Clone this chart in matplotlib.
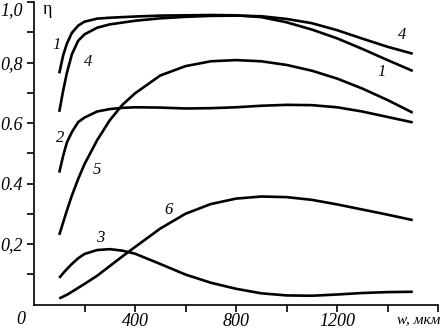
import matplotlib
matplotlib.use("Agg")
import matplotlib.pyplot as plt

# ---- data ----
w = [100, 115, 130, 150, 175, 200, 250, 300, 350, 400, 500, 600, 700, 800, 900, 1000, 1100, 1200, 1300, 1400, 1500]
eta1 = [0.764, 0.822, 0.862, 0.898, 0.922, 0.935, 0.945, 0.948, 0.950, 0.952, 0.955, 0.956, 0.957, 0.956, 0.950, 0.933, 0.909, 0.880, 0.845, 0.808, 0.772]
eta4 = [0.637, 0.705, 0.765, 0.827, 0.872, 0.893, 0.915, 0.926, 0.932, 0.938, 0.946, 0.951, 0.954, 0.955, 0.953, 0.944, 0.930, 0.907, 0.879, 0.852, 0.829]
eta2 = [0.436, 0.490, 0.535, 0.570, 0.603, 0.618, 0.638, 0.646, 0.650, 0.652, 0.651, 0.648, 0.649, 0.652, 0.657, 0.660, 0.659, 0.652, 0.638, 0.620, 0.602]
eta5 = [0.230, 0.270, 0.310, 0.360, 0.415, 0.464, 0.543, 0.609, 0.660, 0.698, 0.757, 0.788, 0.804, 0.808, 0.804, 0.792, 0.773, 0.747, 0.714, 0.676, 0.634]
eta3 = [0.088, 0.103, 0.117, 0.134, 0.153, 0.167, 0.180, 0.183, 0.178, 0.168, 0.134, 0.099, 0.072, 0.052, 0.037, 0.030, 0.029, 0.033, 0.038, 0.041, 0.042]
eta6 = [0.020, 0.026, 0.032, 0.042, 0.055, 0.068, 0.095, 0.127, 0.159, 0.190, 0.251, 0.300, 0.332, 0.350, 0.357, 0.355, 0.346, 0.331, 0.314, 0.297, 0.279]

series = [eta1, eta4, eta2, eta5, eta3, eta6]

curve_labels = ["1", "4", "2", "5", "3", "6", "4", "1"]
label_x = [91, 214, 103, 249, 261, 531, 1457, 1378]
label_y = [0.858, 0.802, 0.55, 0.445, 0.22, 0.312, 0.891, 0.769]

xticks_major = [400, 800, 1200]
xtick_labels = ["400", "800", "1200"]
yticks_major = [0.2, 0.4, 0.6, 0.8, 1.0]
ytick_labels = ["0,2", "0.4", "0.6", "0,8", "1,0"]

serif = ["Liberation Serif", "DejaVu Serif"]

fig = plt.figure(figsize=(4.41, 3.30), dpi=100)
ax = fig.add_axes([34 / 441, 25.5 / 330, 404 / 441, 302.5 / 330])

for s in series:
    ax.plot(w, s, color="black", lw=1.9, solid_capstyle="butt", solid_joinstyle="round")

ax.set_xlim(0, 1600)
ax.set_ylim(0, 1.0)
for sp in ["top", "right"]:
    ax.spines[sp].set_visible(False)
for sp in ["left", "bottom"]:
    ax.spines[sp].set_linewidth(1.2)

ax.set_xticks(xticks_major)
ax.set_xticklabels(xtick_labels)
ax.set_xticks([200, 600, 1000, 1400, 1600], minor=True)
ax.set_yticks(yticks_major)
ax.set_yticklabels(ytick_labels)
ax.set_yticks([0.1, 0.3, 0.5, 0.7, 0.9], minor=True)

ax.tick_params(axis="both", which="both", direction="out", length=5, width=1.2, color="black")
ax.tick_params(axis="x", which="major", pad=1)
ax.tick_params(axis="y", which="major", pad=3)

for lab in ax.get_xticklabels() + ax.get_yticklabels():
    lab.set_fontfamily(serif)
    lab.set_fontstyle("italic")
    lab.set_fontsize(13)

ax.yaxis.get_major_ticks()[-1].label1.set_va("top")

fig.text(21 / 441, 1 - 320 / 330, "0", family=serif, style="italic", fontsize=13,
         ha="center", va="center")
fig.text(440 / 441, 1 - 320 / 330, "w, мкм", family=serif, style="italic", fontsize=11,
         ha="right", va="center")
fig.text(47 / 441, 1 - 10 / 330, "η", family=serif, fontsize=13, ha="center", va="center")

for t, x, y in zip(curve_labels, label_x, label_y):
    ax.text(x, y, t, family=serif, style="italic", fontsize=12, ha="center", va="center")

fig.savefig("out.png", dpi=100)
